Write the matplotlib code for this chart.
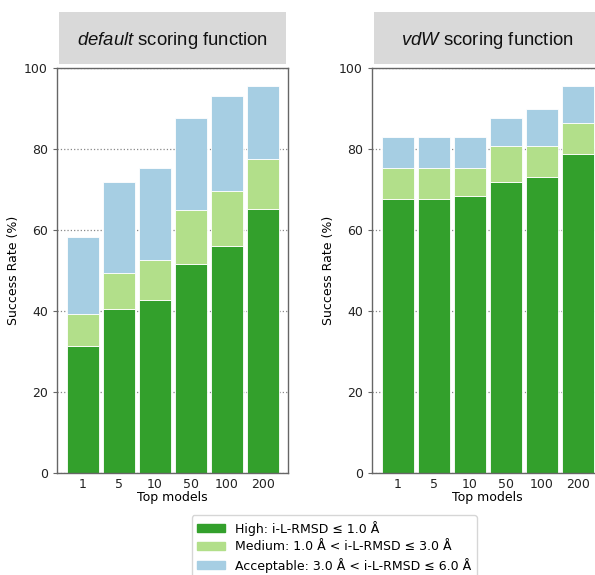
import numpy as np
import matplotlib.pyplot as plt
from matplotlib.patches import Rectangle, Patch

plt.rcParams['font.family'] = 'DejaVu Sans'
plt.rcParams['mathtext.fontset'] = 'custom'
plt.rcParams['mathtext.rm'] = 'Liberation Sans'
plt.rcParams['mathtext.it'] = 'Liberation Sans:italic'

# Success rates (%) per number of top models, cumulative per quality level
top_models = ['1', '5', '10', '50', '100', '200']

default_high = [31.4, 40.4, 42.6, 51.5, 56.0, 65.0]
default_medium = [39.3, 49.4, 52.6, 64.9, 69.5, 77.4]
default_acceptable = [58.3, 71.8, 75.2, 87.6, 93.1, 95.4]

vdw_high = [67.5, 67.5, 68.4, 71.9, 72.9, 78.6]
vdw_medium = [75.2, 75.2, 75.2, 80.7, 80.7, 86.4]
vdw_acceptable = [83.0, 83.0, 83.0, 87.6, 89.8, 95.4]

titles = [r'$\mathit{default}$ scoring function', r'$\mathit{vdW}$ scoring function']

c_high = '#33a02c'
c_medium = '#b2df8a'
c_acc = '#a6cee3'

fig = plt.figure(figsize=(5.95, 5.75), dpi=100)
W, H = 595, 575
ax_w = 231 / W
ax_b = 1 - 472.7 / H
ax_h = (472.7 - 67.7) / H
axes = [fig.add_axes([57 / W, ax_b, ax_w, ax_h]),
        fig.add_axes([372 / W, ax_b, ax_w, ax_h])]

panels = [(default_high, default_medium, default_acceptable),
          (vdw_high, vdw_medium, vdw_acceptable)]

x = np.arange(len(top_models))
for ax, (high, med, acc), title in zip(axes, panels, titles):
    high = np.array(high)
    med = np.array(med)
    acc = np.array(acc)
    ax.set_axisbelow(True)
    ax.yaxis.grid(True, linestyle=':', color='#888888', linewidth=0.9)
    ax.bar(x, high, width=0.9, color=c_high, edgecolor='white', linewidth=0.6)
    ax.bar(x, med - high, bottom=high, width=0.9, color=c_medium, edgecolor='white', linewidth=0.6)
    ax.bar(x, acc - med, bottom=med, width=0.9, color=c_acc, edgecolor='white', linewidth=0.6)
    ax.set_xlim(-0.72, 5.69)
    ax.set_ylim(0, 100)
    ax.set_yticks([0, 20, 40, 60, 80, 100])
    ax.set_xticks(x)
    ax.set_xticklabels(top_models)
    ax.tick_params(axis='both', labelsize=9, colors='#222222')
    ax.tick_params(axis='x', length=0, pad=4)
    ax.tick_params(axis='y', length=3, color='#666666')
    for s in ax.spines.values():
        s.set_color('#666666')
        s.set_linewidth(1.0)
    ax.set_xlabel('Top models', fontsize=9, labelpad=0)
    ax.set_ylabel('Success Rate (%)', fontsize=9, labelpad=3)
    # grey header box above the panel
    ax.add_patch(Rectangle((0.009, 1.009), 0.982, 0.128, transform=ax.transAxes,
                           facecolor='#d9d9d9', edgecolor='none', clip_on=False))
    ax.text(0.5, 1.068, title, transform=ax.transAxes, ha='center', va='center',
            fontsize=13.3, family='Liberation Sans', color='#111111')

handles = [Patch(color=c_high), Patch(color=c_medium), Patch(color=c_acc)]
labels = [u'High: i-L-RMSD \u2264 1.0 \u00c5',
          u'Medium: 1.0 \u00c5 < i-L-RMSD \u2264 3.0 \u00c5',
          u'Acceptable: 3.0 \u00c5 < i-L-RMSD \u2264 6.0 \u00c5']
fig.legend(handles, labels, loc='upper center', bbox_to_anchor=(334 / W, 1 - 509 / H),
           fontsize=9, frameon=True, handlelength=2.2, handleheight=0.6,
           labelspacing=0.35, borderpad=0.45, edgecolor='#cccccc')

fig.savefig('out.png', dpi=100)
